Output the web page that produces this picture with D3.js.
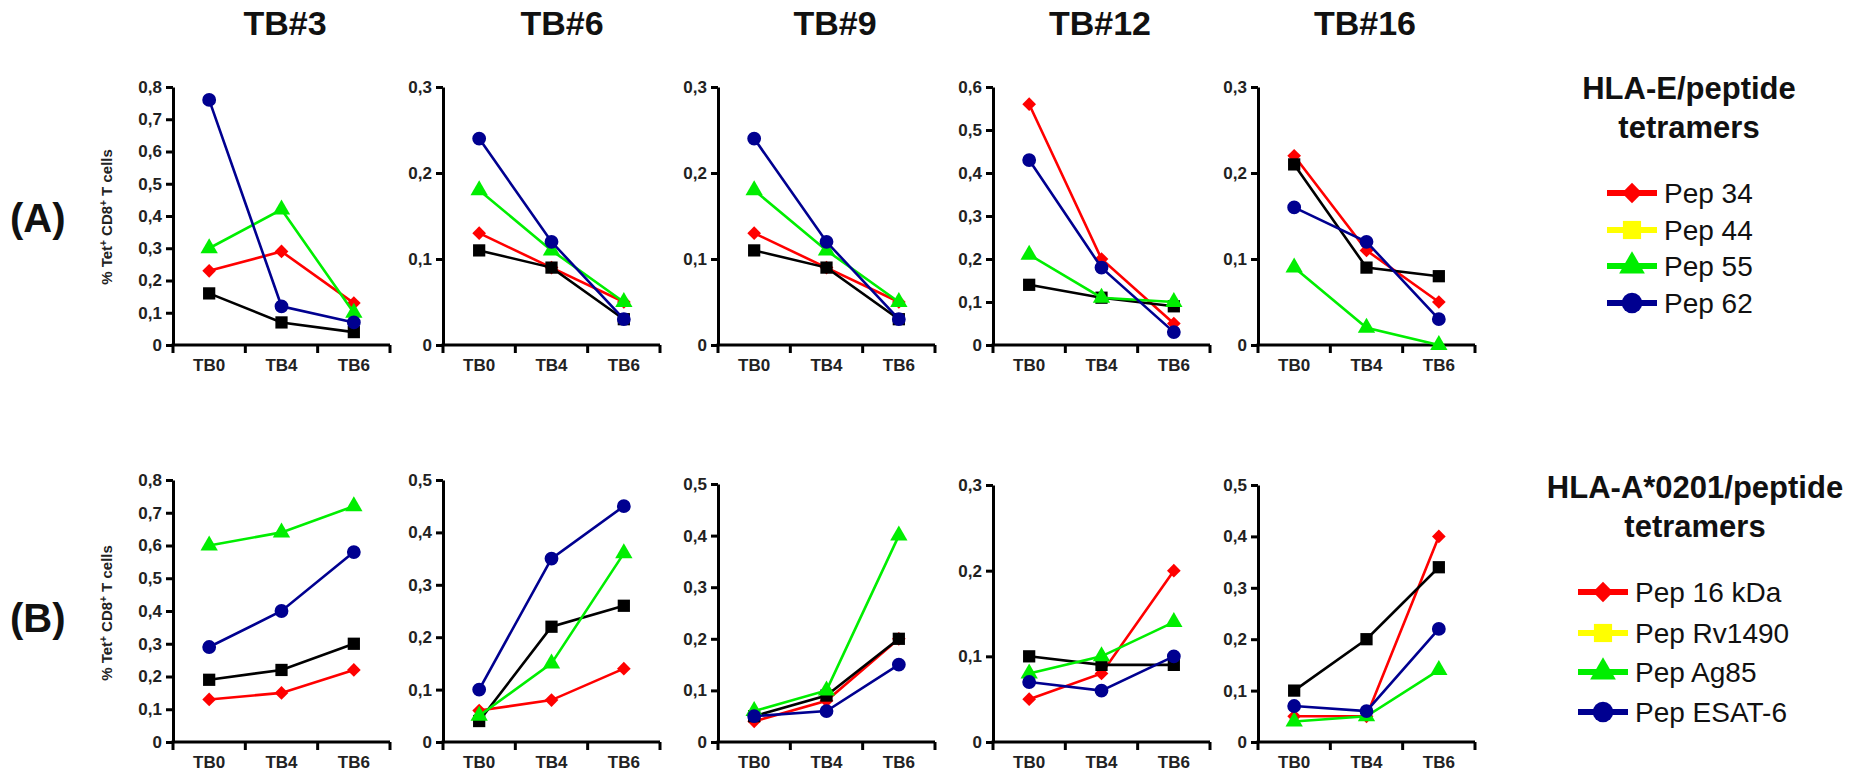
<!DOCTYPE html>
<head>
    <title>Tetramer panels</title>
    <script src="https://d3js.org/d3.v7.min.js"></script>
    <style>
        body {
            margin: 0;
            background-color: #fff;
        }
        text {
            font-family: Arial, "Liberation Sans", sans-serif;
        }
    </style>
</head>
<body>
    <svg></svg>
    <script type="text/javascript">
        const timepoints = ["TB0", "TB4", "TB6"]
        const patients = ["TB#3", "TB#6", "TB#9", "TB#12", "TB#16"]
        const yMaxA = [0.8, 0.3, 0.3, 0.6, 0.3]
        const yMaxB = [0.8, 0.5, 0.5, 0.3, 0.5]
        const seriesA = ["Pep 34", "Pep 44", "Pep 55", "Pep 62"]
        const seriesB = ["Pep 16 kDa", "Pep Rv1490", "Pep Ag85", "Pep ESAT-6"]

        // row A, one list per peptide, one triple per patient
        const pep34 = [[0.23, 0.29, 0.13], [0.13, 0.09, 0.05], [0.13, 0.09, 0.05], [0.56, 0.20, 0.05], [0.22, 0.11, 0.05]]
        const pep44 = [[0.16, 0.07, 0.04], [0.11, 0.09, 0.03], [0.11, 0.09, 0.03], [0.14, 0.11, 0.09], [0.21, 0.09, 0.08]]
        const pep55 = [[0.30, 0.42, 0.10], [0.18, 0.11, 0.05], [0.18, 0.11, 0.05], [0.21, 0.11, 0.10], [0.09, 0.02, 0.00]]
        const pep62 = [[0.76, 0.12, 0.07], [0.24, 0.12, 0.03], [0.24, 0.12, 0.03], [0.43, 0.18, 0.03], [0.16, 0.12, 0.03]]

        // row B
        const pep16kDa = [[0.13, 0.15, 0.22], [0.06, 0.08, 0.14], [0.04, 0.08, 0.20], [0.05, 0.08, 0.20], [0.05, 0.05, 0.40]]
        const pepRv1490 = [[0.19, 0.22, 0.30], [0.04, 0.22, 0.26], [0.05, 0.09, 0.20], [0.10, 0.09, 0.09], [0.10, 0.20, 0.34]]
        const pepAg85 = [[0.60, 0.64, 0.72], [0.05, 0.15, 0.36], [0.06, 0.10, 0.40], [0.08, 0.10, 0.14], [0.04, 0.05, 0.14]]
        const pepESAT6 = [[0.29, 0.40, 0.58], [0.10, 0.35, 0.45], [0.05, 0.06, 0.15], [0.07, 0.06, 0.10], [0.07, 0.06, 0.22]]

        const lineColors = ["#ff0000", "#000000", "#00ee00", "#000090"]
        const legendColors = ["#ff0000", "#ffff00", "#00ee00", "#000090"]
        const shapes = [d3.symbolDiamond2, d3.symbolSquare, d3.symbolTriangle, d3.symbolCircle]
        const shapeSize = [120, 150, 130, 150]

        const W = 1860, H = 774
        const svg = d3.select("svg").attr("width", W).attr("height", H)

        const panelLeft = [173, 443, 718, 993, 1258]
        const titleX = [285, 562, 835, 1100, 1365]
        const plotW = 217
        const rowA = { tops: [87, 87, 87, 87, 87], zero: 345 }
        const rowB = { tops: [480, 480, 484, 485, 485], zero: 742 }

        const locale = d3.formatLocale({ decimal: ",", thousands: ".", grouping: [3], currency: ["", ""] })
        const fmt = d => d === 0 ? "0" : locale.format(".1f")(d)

        let drawPanel = (p, row, yMax, series) => {
            let x0 = panelLeft[p]
            let top = row.tops[p]
            let g = svg.append("g")

            let x = d3.scaleBand().domain(timepoints).range([x0, x0 + plotW])
            let y = d3.scaleLinear().domain([0, yMax]).range([row.zero, top])

            // y axis
            let yAxis = d3.axisLeft(y).tickValues(d3.range(0, yMax + 0.001, 0.1))
                .tickFormat(fmt).tickSizeOuter(0).tickSizeInner(7).tickPadding(4)
            let ya = g.append("g").attr("transform", `translate(${x0},0)`).call(yAxis)
            ya.select(".domain").attr("stroke", "#000").attr("stroke-width", 3)
            ya.selectAll(".tick line").attr("stroke", "#000").attr("stroke-width", 3)
            ya.selectAll(".tick text").attr("fill", "#222").style("font-size", "17px")
                .style("font-weight", "bold").style("font-family", "Arial, 'Liberation Sans', sans-serif")

            // x axis: labels in band centres, ticks at band edges
            let xAxis = d3.axisBottom(x).tickSize(0).tickPadding(14)
            let xa = g.append("g").attr("transform", `translate(0,${row.zero})`).call(xAxis)
            xa.select(".domain").remove()
            xa.selectAll(".tick text").attr("fill", "#222").style("font-size", "17px")
                .style("font-weight", "bold").style("font-family", "Arial, 'Liberation Sans', sans-serif")
            g.append("line")
                .attr("x1", x0 - 1.5).attr("x2", x0 + plotW)
                .attr("y1", row.zero).attr("y2", row.zero)
                .attr("stroke", "#000").attr("stroke-width", 3)
            g.selectAll("line.edge").data(d3.range(timepoints.length + 1)).enter()
                .append("line").attr("class", "edge")
                .attr("x1", i => x0 + i * x.step()).attr("x2", i => x0 + i * x.step())
                .attr("y1", row.zero).attr("y2", row.zero + 8)
                .attr("stroke", "#000").attr("stroke-width", 3)

            let line = d3.line().x((d, i) => x(timepoints[i]) + x.bandwidth() / 2).y(d => y(d))
            series.forEach((s, k) => {
                let vals = s[p]
                g.append("path").attr("d", line(vals))
                    .attr("fill", "none").attr("stroke", lineColors[k]).attr("stroke-width", 2.6)
                g.selectAll("path.m" + k).data(vals).enter().append("path")
                    .attr("class", "m" + k)
                    .attr("d", d3.symbol().type(shapes[k]).size(shapeSize[k]))
                    .attr("transform", (d, i) => `translate(${x(timepoints[i]) + x.bandwidth() / 2},${y(d)})`)
                    .attr("fill", lineColors[k])
            })
        }

        let seriesRowA = [pep34, pep44, pep55, pep62]
        let seriesRowB = [pep16kDa, pepRv1490, pepAg85, pepESAT6]

        patients.forEach((name, p) => {
            drawPanel(p, rowA, yMaxA[p], seriesRowA)
            drawPanel(p, rowB, yMaxB[p], seriesRowB)
            svg.append("text").text(name)
                .attr("x", titleX[p]).attr("y", 35)
                .attr("text-anchor", "middle")
                .style("font-size", "34px").style("font-weight", "bold").attr("fill", "#111")
        })

        // row labels
        svg.append("text").text("(A)").attr("x", 10).attr("y", 232)
            .style("font-size", "40px").style("font-weight", "bold").attr("fill", "#111")
        svg.append("text").text("(B)").attr("x", 10).attr("y", 632)
            .style("font-size", "40px").style("font-weight", "bold").attr("fill", "#111")

        // y axis titles
        let yTitle = (cy) => {
            let t = svg.append("text")
                .attr("transform", `translate(112,${cy}) rotate(-90)`)
                .attr("text-anchor", "middle")
                .style("font-size", "15px").style("font-weight", "bold").attr("fill", "#222")
            t.append("tspan").text("% Tet")
            t.append("tspan").text("+").attr("baseline-shift", "super").style("font-size", "10px")
            t.append("tspan").text(" CD8")
            t.append("tspan").text("+").attr("baseline-shift", "super").style("font-size", "10px")
            t.append("tspan").text(" T cells")
        }
        yTitle(217)
        yTitle(613)

        // legends
        let drawLegend = (cx, titleY, lines, names, lineX, rowsY) => {
            lines.forEach((l, i) => {
                svg.append("text").text(l).attr("x", cx).attr("y", titleY + i * 39)
                    .attr("text-anchor", "middle")
                    .style("font-size", "31px").style("font-weight", "bold").attr("fill", "#111")
            })
            let items = svg.selectAll(null).data(names).enter().append("g")
                .attr("transform", (d, i) => `translate(${lineX},${rowsY[i]})`)
            items.append("line").attr("x1", 0).attr("x2", 50).attr("y1", 0).attr("y2", 0)
                .attr("stroke", (d, i) => legendColors[i]).attr("stroke-width", 6)
            items.append("path")
                .attr("d", (d, i) => d3.symbol().type(shapes[i]).size(shapeSize[i] * 2.2)())
                .attr("transform", "translate(25,0)")
                .attr("fill", (d, i) => legendColors[i])
            items.append("text").text(d => d).attr("x", 57).attr("y", 10)
                .style("font-size", "28px").attr("fill", "#111")
        }
        drawLegend(1689, 99, ["HLA-E/peptide", "tetramers"], seriesA, 1607, [193, 230, 266, 303])
        drawLegend(1695, 498, ["HLA-A*0201/peptide", "tetramers"], seriesB, 1578, [592, 633, 672, 712])
    </script>
</body>
